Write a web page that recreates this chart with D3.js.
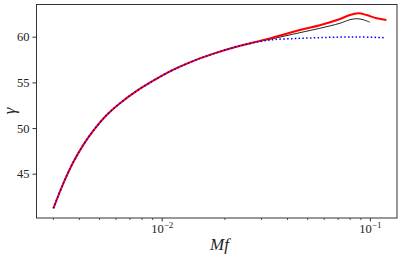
<!DOCTYPE html>
<html>
<head>
<meta charset="utf-8">
<script src="https://cdn.jsdelivr.net/npm/d3@7"></script>
<style>
  body { margin: 0; background: #fff; }
</style>
</head>
<body>
<div id="chart"></div>
<script>
// Data (null = no point for that series)
var mf = [0.003017, 0.00337, 0.003764, 0.004203, 0.004694, 0.005445, 0.006306, 0.007586, 0.009114,
          0.010959, 0.012244, 0.01493, 0.0184, 0.02198, 0.0266,
          0.0331, 0.0461, 0.0575, 0.0643, 0.0718, 0.0802, 0.0863, 0.0879, 0.0929, 0.0964, 0.1, 0.1077, 0.118, 0.12];
var gammaRed = [41.21, 43.95, 46.28, 48.16, 49.72, 51.43, 52.72, 54.07, 55.19, 56.2, 56.72, 57.54, 58.26, 58.79, 59.28,
                59.82, 60.73, 61.25, null, 61.94, 62.38, null, 62.56, null, 62.38, null, 62.01, null, 61.83];
var gammaBlack = [41.21, 43.95, 46.28, 48.16, 49.72, 51.43, 52.72, 54.07, 55.19, 56.2, 56.72, 57.54, 58.26, 58.79, 59.28,
                  59.72, 60.44, 60.92, null, 61.47, 61.86, 61.97, null, 61.86, null, 61.58, null, null, null];
var gammaBlue = [41.21, 43.95, 46.28, 48.16, 49.72, 51.43, 52.72, 54.07, 55.19, 56.2, 56.72, 57.54, 58.26, 58.78, 59.25,
                 59.64, 59.82, null, 59.93, null, null, null, 59.97, null, null, null, null, 59.89, null];
var yTicks = [45, 50, 55, 60];
var xMajor = [0.01, 0.1];
var xMinor = [0.003, 0.004, 0.005, 0.006, 0.007, 0.008, 0.009,
              0.02, 0.03, 0.04, 0.05, 0.06, 0.07, 0.08, 0.09];

var serif = "'Liberation Serif', 'DejaVu Serif', serif";

var svgWidth = 407;
var svgHeight = 255;
var margin = { top: 4, right: 10, bottom: 37, left: 36 };
var width = svgWidth - margin.left - margin.right;
var height = svgHeight - margin.top - margin.bottom;

var svg = d3.select("#chart")
  .append("svg")
  .attr("width", svgWidth)
  .attr("height", svgHeight);

var chartGroup = svg.append("g")
  .attr("transform", `translate(${margin.left}, ${margin.top})`);

// Scales
var xScale = d3.scaleLog()
  .domain([0.00249, 0.135])
  .range([0, width]);

var yScale = d3.scaleLinear()
  .domain([40.15, 63.58])
  .range([height, 0]);

// Lines: black first, then red, then dotted blue on top
var series = [
  { values: gammaBlack, color: "#222", width: 1, dash: null },
  { values: gammaRed, color: "#ff0000", width: 2, dash: null },
  { values: gammaBlue, color: "#0000ff", width: 1.5, dash: "1.5,2.3" }
];

series.forEach(function (s) {
  var pts = [];
  mf.forEach(function (m, i) {
    if (s.values[i] !== null) pts.push([m, s.values[i]]);
  });
  var line = d3.line()
    .x(d => xScale(d[0]))
    .y(d => yScale(d[1]))
    .curve(d3.curveCatmullRom.alpha(0.5));
  chartGroup.append("path")
    .attr("d", line(pts))
    .attr("fill", "none")
    .attr("stroke", s.color)
    .attr("stroke-width", s.width)
    .attr("stroke-dasharray", s.dash);
});

// Axes
var leftAxis = d3.axisLeft(yScale)
  .tickValues(yTicks)
  .tickSize(3.5)
  .tickPadding(3)
  .tickFormat(d3.format("d"));

var yAxis = chartGroup.append("g").call(leftAxis)
  .attr("font-family", serif)
  .attr("font-size", 12.5);
yAxis.select(".domain").remove();
yAxis.selectAll(".tick text").attr("fill", "#222");
yAxis.selectAll(".tick line").attr("stroke", "#333");

var minorAxis = d3.axisBottom(xScale)
  .tickValues(xMinor)
  .tickSize(2)
  .tickFormat("");
var xMinorG = chartGroup.append("g")
  .attr("transform", `translate(0, ${height})`)
  .call(minorAxis);
xMinorG.select(".domain").remove();
xMinorG.selectAll(".tick line").attr("stroke", "#555");

var majorAxis = d3.axisBottom(xScale)
  .tickValues(xMajor)
  .tickSize(3.5)
  .tickFormat("");
var xMajorG = chartGroup.append("g")
  .attr("transform", `translate(0, ${height})`)
  .call(majorAxis)
  .attr("font-family", serif);
xMajorG.select(".domain").remove();
xMajorG.selectAll(".tick line").attr("stroke", "#333");

// 10^n labels with superscript
xMajorG.selectAll(".tick").append("text")
  .attr("y", 14.5)
  .attr("fill", "#222")
  .attr("font-size", 12.5)
  .attr("text-anchor", "middle")
  .each(function (d) {
    var t = d3.select(this);
    t.append("tspan").text("10");
    t.append("tspan")
      .attr("dy", -5)
      .attr("font-size", 9)
      .text("\u2212" + Math.round(-Math.log10(d)));
  });

// Frame
chartGroup.append("rect")
  .attr("x", 0.5)
  .attr("y", 0.5)
  .attr("width", width - 0.5)
  .attr("height", height - 0.5)
  .attr("fill", "none")
  .attr("stroke", "#333")
  .attr("stroke-width", 1);

// Axis labels
svg.append("text")
  .attr("x", margin.left + width / 2 + 3)
  .attr("y", 250)
  .attr("text-anchor", "middle")
  .attr("font-family", serif)
  .attr("font-style", "italic")
  .attr("font-size", 17)
  .attr("fill", "#222")
  .text("Mf");

svg.append("text")
  .attr("transform", "translate(15, 111) rotate(-90)")
  .attr("text-anchor", "middle")
  .attr("font-family", serif)
  .attr("font-style", "italic")
  .attr("font-size", 17)
  .attr("fill", "#222")
  .text("\u03b3");
</script>
</body>
</html>
